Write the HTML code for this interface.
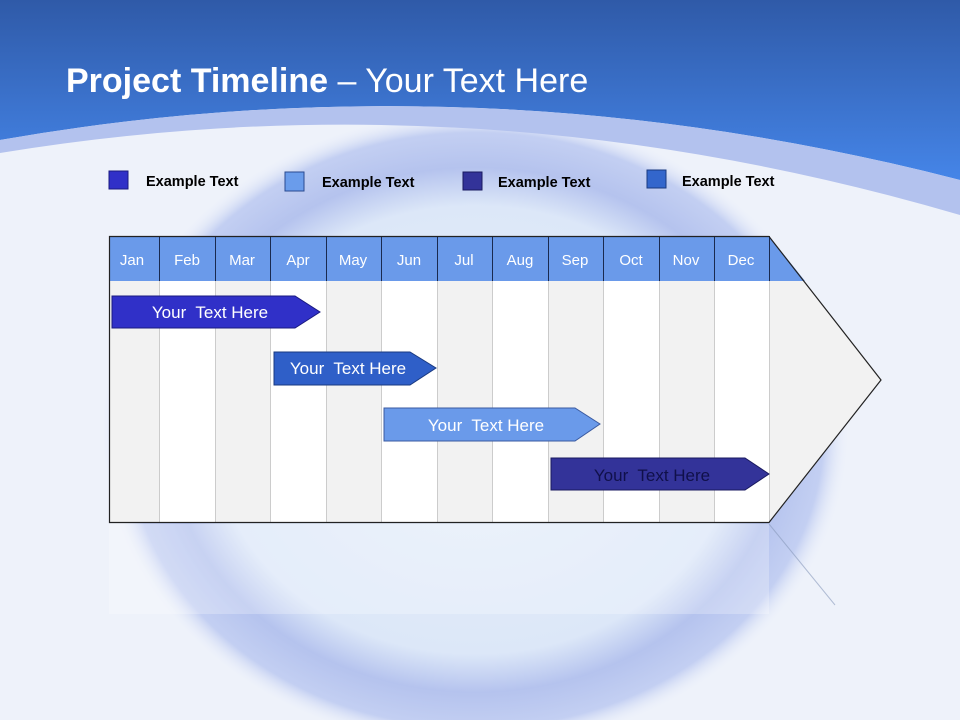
<!DOCTYPE html>
<html><head><meta charset="utf-8"><style>
html,body{margin:0;width:960px;height:720px;overflow:hidden;font-family:"Liberation Sans",sans-serif}
svg{display:block}
</style></head><body>
<svg width="960" height="720" xmlns="http://www.w3.org/2000/svg">
<defs>
<linearGradient id="top" x1="0" y1="0" x2="0" y2="1"><stop offset="0" stop-color="#2f5aa8"/><stop offset="1" stop-color="#4585e8"/></linearGradient>
<radialGradient id="ring" cx="0.5" cy="0.5" r="0.5"><stop offset="0" stop-color="#e8f0fb"/><stop offset="0.7" stop-color="#dce7f8"/><stop offset="0.82" stop-color="#b5c3ee"/><stop offset="0.93" stop-color="#c3cff2"/><stop offset="1" stop-color="#eef2fb" stop-opacity="0"/></radialGradient>
</defs>
<rect width="960" height="720" fill="#eef2fa"/>
<ellipse cx="475" cy="430" rx="375" ry="320" fill="url(#ring)"/>
<path d="M0 0H960V180Q480 56 0 140Z" fill="url(#top)"/>
<path d="M0 140Q480 56 960 180V215Q480 74 0 153Z" fill="#b3c2ee"/>
<text x="66" y="92" font-size="34" fill="#fff"><tspan font-weight="bold">Project Timeline</tspan> – Your Text Here</text>
<g font-size="14.5" font-weight="bold" fill="#000">
<rect x="109" y="171" width="19" height="18" fill="#3030c8" stroke="#1a1a80"/><text x="146" y="186">Example Text</text>
<rect x="285" y="172" width="19" height="19" fill="#6a9ceb" stroke="#2a4a90"/><text x="322" y="187">Example Text</text>
<rect x="463" y="172" width="19" height="18" fill="#333399" stroke="#1a1a60"/><text x="498" y="187">Example Text</text>
<rect x="647" y="170" width="19" height="18" fill="#3366cc" stroke="#1a3a80"/><text x="682" y="186">Example Text</text>
</g>
<rect x="109" y="524" width="660" height="90" fill="#ffffff" opacity="0.25"/>
<path d="M769 524L835 605" stroke="#8899bb" stroke-width="1" opacity="0.6"/>
<path d="M109 236H769L881 380L769 522H109Z" fill="#f2f2f2"/>
<g fill="#fff">
<rect x="159" y="281" width="56" height="241"/><rect x="270" y="281" width="56" height="241"/><rect x="381" y="281" width="56" height="241"/><rect x="492" y="281" width="56" height="241"/><rect x="603" y="281" width="56" height="241"/><rect x="714" y="281" width="55" height="241"/>
</g>
<rect x="109" y="236" width="660" height="45" fill="#6a9aea"/>
<path d="M769 236L805 281H769Z" fill="#6a9aea"/>
<path stroke="#cccccc" d="M159.5 281V522M215.5 281V522M270.5 281V522M326.5 281V522M381.5 281V522M437.5 281V522M492.5 281V522M548.5 281V522M603.5 281V522M659.5 281V522M714.5 281V522M769.5 281V522"/>
<path stroke="#1a2a50" d="M159.5 236V281M215.5 236V281M270.5 236V281M326.5 236V281M381.5 236V281M437.5 236V281M492.5 236V281M548.5 236V281M603.5 236V281M659.5 236V281M714.5 236V281M769.5 236V281"/>
<path d="M109.5 236.5H769L881 380L769 522.5H109.5Z" fill="none" stroke="#222" stroke-width="1.2"/>
<g font-size="15" fill="#fff" text-anchor="middle">
<text x="132" y="265">Jan</text><text x="187" y="265">Feb</text><text x="242" y="265">Mar</text><text x="298" y="265">Apr</text><text x="353" y="265">May</text><text x="409" y="265">Jun</text><text x="464" y="265">Jul</text><text x="520" y="265">Aug</text><text x="575" y="265">Sep</text><text x="631" y="265">Oct</text><text x="686" y="265">Nov</text><text x="741" y="265">Dec</text>
</g>
<g font-size="17" text-anchor="middle">
<path d="M112 296H295L320 312L295 328H112Z" fill="#3030c8" stroke="#1a1a80"/><text x="210" y="318" fill="#fff">Your&#160; Text Here</text>
<path d="M274 352H410L436 368L410 385H274Z" fill="#2f5fc8" stroke="#1a3a80"/><text x="348" y="374" fill="#fff">Your&#160; Text Here</text>
<path d="M384 408H575L600 424L575 441H384Z" fill="#6a9aea" stroke="#3a5aa0"/><text x="486" y="431" fill="#fff">Your&#160; Text Here</text>
<path d="M551 458H745L769 474L745 490H551Z" fill="#333399" stroke="#1a1a60"/><text x="652" y="481" fill="#10104a">Your&#160; Text Here</text>
</g>
</svg>
</body></html>
